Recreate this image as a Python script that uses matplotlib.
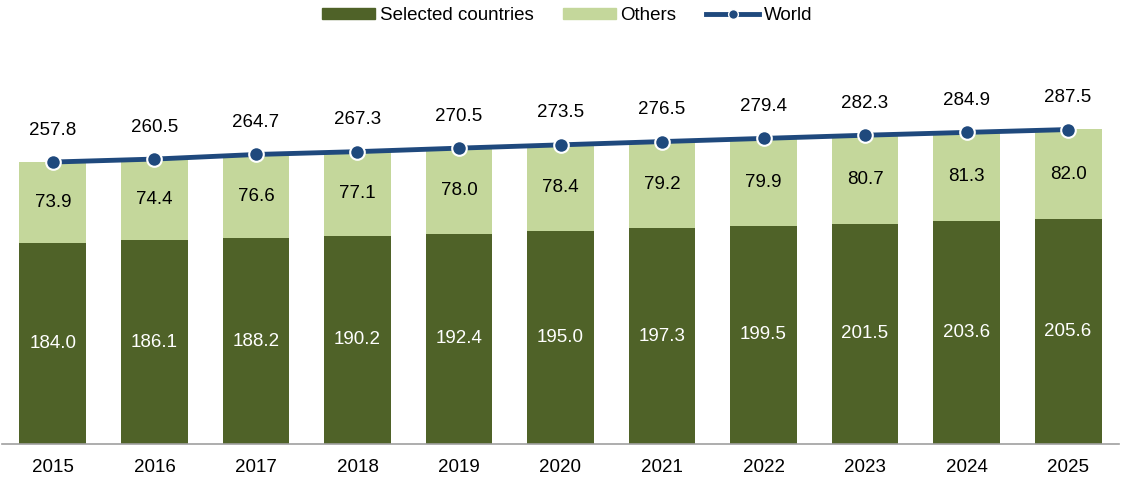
import matplotlib.pyplot as plt
import numpy as np
from matplotlib.lines import Line2D
from matplotlib.patches import Patch

plt.rcParams["font.family"] = ["Liberation Sans", "DejaVu Sans"]

years = ["2015", "2016", "2017", "2018", "2019", "2020", "2021", "2022", "2023", "2024", "2025"]
selected = [184.0, 186.1, 188.2, 190.2, 192.4, 195.0, 197.3, 199.5, 201.5, 203.6, 205.6]
others = [73.9, 74.4, 76.6, 77.1, 78.0, 78.4, 79.2, 79.9, 80.7, 81.3, 82.0]
world = [257.8, 260.5, 264.7, 267.3, 270.5, 273.5, 276.5, 279.4, 282.3, 284.9, 287.5]

dark = "#4F6228"
light = "#C4D79B"
navy = "#1F497D"
fs = 13.5

fig = plt.figure(figsize=(11.21, 4.79), dpi=100)
ax = fig.add_axes([0.002, 1 - 444 / 479, 0.996, 350 / 479])

x = np.arange(len(years))
ax.bar(x, selected, width=0.66, color=dark)
ax.bar(x, others, width=0.66, bottom=selected, color=light)
ax.plot(x, world, color=navy, lw=3.5, marker="o", ms=10.5, mfc=navy,
        mec="white", mew=1.5, zorder=3)

for i in range(len(x)):
    ax.text(x[i], selected[i] / 2, f"{selected[i]:.1f}", ha="center", va="center",
            color="white", fontsize=fs)
    ax.text(x[i], selected[i] + others[i] / 2, f"{others[i]:.1f}", ha="center",
            va="center", color="black", fontsize=fs)
    ax.annotate(f"{world[i]:.1f}", (x[i], world[i]), xytext=(0, 23),
                textcoords="offset points", ha="center", va="center", fontsize=fs)

ax.set_xlim(-0.5, len(x) - 0.5)
ax.set_ylim(0, 320)
ax.set_xticks(x)
ax.set_xticklabels(years, fontsize=fs)
ax.tick_params(axis="x", length=0, pad=11)
ax.set_yticks([])
for s in ["top", "right", "left"]:
    ax.spines[s].set_visible(False)
ax.spines["bottom"].set_color("#A0A0A0")
ax.spines["bottom"].set_linewidth(1.2)

handles = [
    Patch(color=dark, label="Selected countries"),
    Patch(color=light, label="Others"),
    Line2D([], [], color=navy, lw=3.5, marker="o", ms=7, mfc=navy,
           mec="white", mew=1, label="World"),
]
fig.legend(handles=handles, loc="upper center", bbox_to_anchor=(0.506, 1.02), ncol=3,
           frameon=False, fontsize=fs, handlelength=2.8, handleheight=0.55,
           columnspacing=1.6, handletextpad=0.25)

fig.savefig("out.png", dpi=100)
